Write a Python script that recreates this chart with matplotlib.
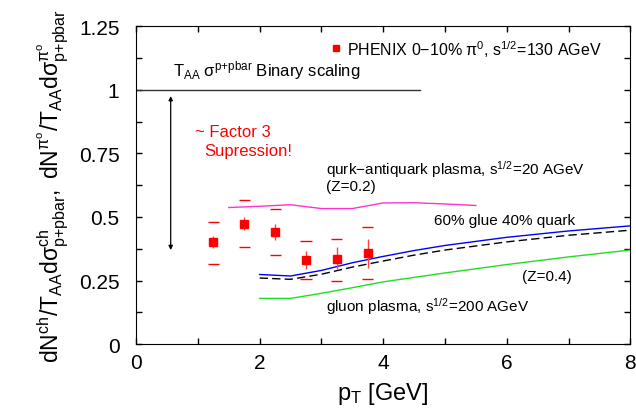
import numpy as np
import matplotlib
matplotlib.use("Agg")
import matplotlib.pyplot as plt
from matplotlib.ticker import MultipleLocator

plt.rcParams['font.family'] = ['Liberation Sans', 'DejaVu Sans']
plt.rcParams['mathtext.fontset'] = 'custom'
plt.rcParams['mathtext.rm'] = 'Liberation Sans'
plt.rcParams['mathtext.it'] = 'Liberation Sans:italic'
plt.rcParams['mathtext.sf'] = 'Liberation Sans'

# datos PHENIX
pt_phenix = [1.25, 1.75, 2.25, 2.75, 3.25, 3.75]
r_phenix = [0.40, 0.474, 0.44, 0.331, 0.333, 0.358]
err_lo = [0.378, 0.448, 0.408, 0.297, 0.295, 0.300]
err_hi = [0.425, 0.500, 0.473, 0.367, 0.380, 0.415]
sys_lo = [0.317, 0.380, 0.350, 0.255, 0.248, 0.255]
sys_hi = [0.480, 0.567, 0.530, 0.406, 0.415, 0.460]

# curvas teoricas
pt_qq = [1.5, 2.0, 2.5, 3.0, 3.5, 4.0, 4.5, 5.0, 5.5]
r_qq = [0.537, 0.542, 0.548, 0.533, 0.533, 0.555, 0.556, 0.551, 0.545]

pt_mix = [2.0, 2.5, 3.0, 3.5, 4.0, 4.5, 5.0, 6.0, 7.0, 8.0]
r_mix = [0.274, 0.268, 0.290, 0.320, 0.345, 0.368, 0.388, 0.420, 0.445, 0.465]

pt_z04 = [2.0, 2.5, 3.0, 3.5, 4.0, 4.5, 5.0, 6.0, 7.0, 8.0]
r_z04 = [0.260, 0.255, 0.275, 0.303, 0.327, 0.350, 0.370, 0.402, 0.428, 0.448]

pt_glu = [2.0, 2.5, 3.0, 3.5, 4.0, 5.0, 6.0, 7.0, 8.0]
r_glu = [0.180, 0.180, 0.200, 0.222, 0.245, 0.280, 0.313, 0.343, 0.370]

fig = plt.figure(figsize=(6.36, 4.10), dpi=100)
ax = fig.add_axes([0.214, 0.158, 0.777, 0.776])

# binary scaling
ax.plot([0, 4.6], [1, 1], color='#333333', lw=1.0)
ax.text(0.6, 1.035, r'T$_{\mathrm{AA}}$ $\mathrm{\sigma}^{\mathrm{p{+}pbar}}$ Binary scaling',
        fontsize=12, ha='left', va='bottom')
ax.annotate('', xy=(0.56, 0.975), xytext=(0.56, 0.37),
            arrowprops=dict(arrowstyle='<|-|>', color='black', lw=0.9,
                            mutation_scale=6, shrinkA=0, shrinkB=0))
ax.text(0.95, 0.835, '~ Factor 3', color='red', fontsize=12, va='center')
ax.text(1.1, 0.76, 'Supression!', color='red', fontsize=12, va='center')

# curvas
ax.plot(pt_qq, r_qq, color='#ff33cc', lw=1.0)
ax.plot(pt_mix, r_mix, color='blue', lw=1.0)
ax.plot(pt_z04, r_z04, color='black', lw=1.0, ls=(0, (6, 3)))
ax.plot(pt_glu, r_glu, color='#22dd22', lw=1.0)

# datos
yerr = [np.array(r_phenix) - np.array(err_lo), np.array(err_hi) - np.array(r_phenix)]
ax.errorbar(pt_phenix, r_phenix, yerr=yerr, fmt='s', color='red', ms=6,
            elinewidth=1.0, capsize=0, ecolor='#ff4444')
ax.hlines(sys_lo, np.array(pt_phenix) - 0.09, np.array(pt_phenix) + 0.09, color='red', lw=1.0)
ax.hlines(sys_hi, np.array(pt_phenix) - 0.09, np.array(pt_phenix) + 0.09, color='red', lw=1.0)

# leyenda
ax.plot([3.23], [1.163], 's', color='red', ms=5)
ax.text(3.42, 1.163, r'PHENIX 0−10% $\mathrm{\pi}^{\mathrm{0}}$, s$^{\mathrm{1/2}}$=130 AGeV',
        fontsize=11.5, va='center')

ax.text(3.07, 0.69, r'qurk−antiquark plasma, s$^{\mathrm{1/2}}$=20 AGeV', fontsize=11, va='center')
ax.text(3.07, 0.622, '(Z=0.2)', fontsize=11, va='center')
ax.text(4.82, 0.49, '60% glue 40% quark', fontsize=11, va='center')
ax.text(6.25, 0.267, '(Z=0.4)', fontsize=11, va='center')
ax.text(3.07, 0.15, r'gluon plasma, s$^{\mathrm{1/2}}$=200 AGeV', fontsize=11, va='center')

ax.set_xlim(0, 8)
ax.set_ylim(0, 1.25)
ax.xaxis.set_major_locator(MultipleLocator(2))
ax.xaxis.set_minor_locator(MultipleLocator(1))
ax.yaxis.set_major_locator(MultipleLocator(0.25))
ax.yaxis.set_minor_locator(MultipleLocator(0.125))
ax.set_yticks([0, 0.25, 0.5, 0.75, 1.0, 1.25])
ax.set_yticklabels(['0', '0.25', '0.5', '0.75', '1', '1.25'])
ax.tick_params(which='both', direction='in', top=True, right=True, labelsize=15, length=4.5, width=1)
ax.tick_params(axis='y', pad=12)
ax.tick_params(axis='x', pad=6)

ax.set_xlabel(r'p$_{\mathrm{T}}$ [GeV]', fontsize=17, labelpad=6)
ax.set_ylabel(r'$\mathrm{dN^{ch}/T_{AA}d\sigma^{ch}_{p{+}pbar},\ dN^{\pi^o}/T_{AA}d\sigma^{\pi^o}_{p{+}pbar}}$',
              fontsize=16.5, labelpad=6)

fig.savefig('out.png', dpi=100)
